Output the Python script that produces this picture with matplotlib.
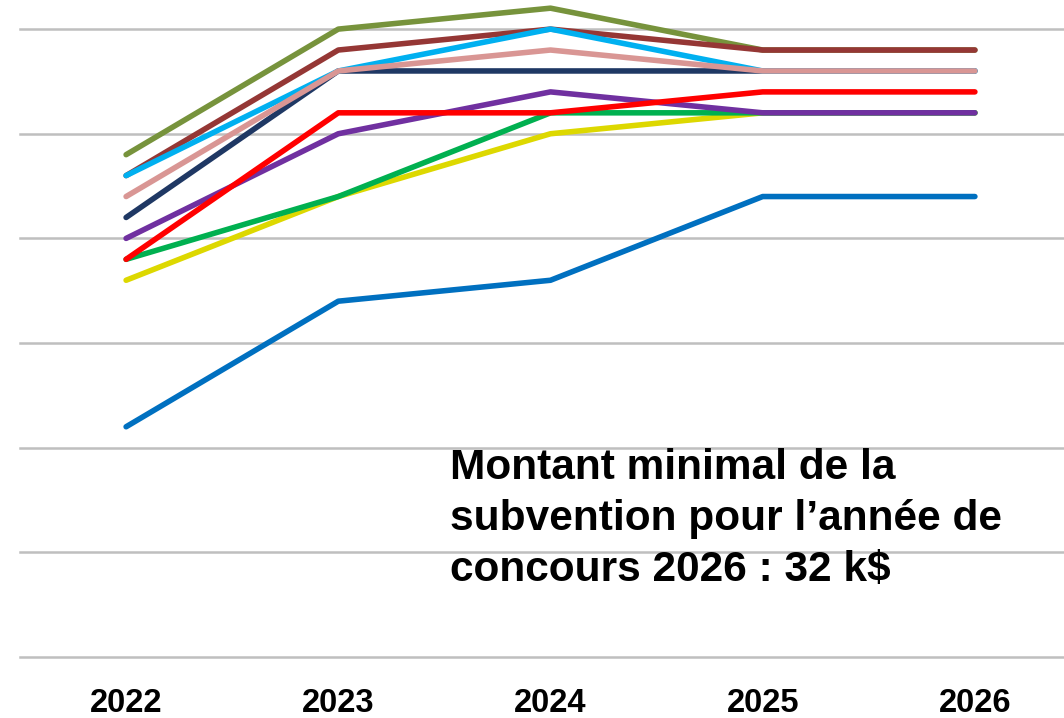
import numpy as np
import matplotlib
matplotlib.use('Agg')
import matplotlib.pyplot as plt

# years on the category axis
years = [2022, 2023, 2024, 2025, 2026]

# grant amounts (k$) per series
blue = [21, 27, 28, 32, 32]
yellow = [28, 32, 35, 36, 36]
green = [29, 32, 36, 36, 36]
navy = [31, 38, 38, 38, 38]
olive = [34, 40, 41, 39, 39]
purple = [30, 35, 37, 36, 36]
red = [29, 36, 36, 37, 37]
brown = [33, 39, 40, 39, 39]
cyan = [33, 38, 40, 38, 38]
pink = [32, 38, 39, 38, 38]

series = [
    (blue, '#0070C0'),
    (yellow, '#DDD800'),
    (green, '#00B050'),
    (navy, '#1F3864'),
    (olive, '#77933C'),
    (purple, '#7030A0'),
    (red, '#FF0000'),
    (brown, '#953735'),
    (cyan, '#00B0F0'),
    (pink, '#D99694'),
]

note = 'Montant minimal de la\nsubvention pour l\u2019année de\nconcours 2026 : 32 k$'

fig = plt.figure(figsize=(10.64, 7.18), dpi=100)
ax = fig.add_axes([20 / 1064, 61 / 718, 1061 / 1064, 657 / 718])

for vals, col in series:
    ax.plot(years, vals, color=col, linewidth=4.0, solid_capstyle='round',
            solid_joinstyle='round', zorder=3)

ax.set_xlim(2021.5, 2026.5)
ax.set_ylim(10, 10 + 657 / 20.93)
ax.set_yticks([10, 15, 20, 25, 30, 35, 40])
ax.yaxis.grid(True, color='#BFBFBF', linewidth=1.8, zorder=0)
for gl in ax.get_ygridlines():
    gl.set_clip_on(False)
ax.set_yticklabels([])
ax.tick_params(axis='y', length=0)
ax.tick_params(axis='x', length=0, pad=22)
ax.set_xticks(years)
ax.set_xticklabels([str(y) for y in years], fontweight='bold', fontsize=23.5,
                   family=['Liberation Sans'])
for s in ax.spines.values():
    s.set_visible(False)

fig.text(450 / 1064, 1 - 448 / 718, note, ha='left', va='top', fontsize=30.5,
         fontweight='bold', family=['Liberation Sans'], linespacing=1.36)

fig.savefig('out.png', dpi=100)
